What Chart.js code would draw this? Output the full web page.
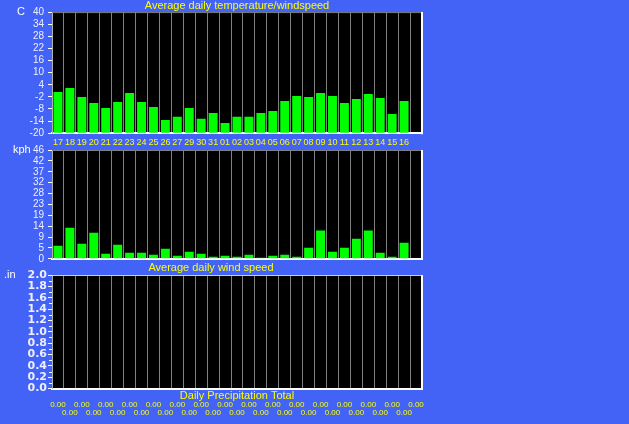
<!DOCTYPE html>
<html><head><meta charset="utf-8">
<script src="https://cdn.jsdelivr.net/npm/chart.js@4/dist/chart.umd.min.js"></script>
<style>
html,body{margin:0;padding:0;background:#4263F5;}
#wrap{position:relative;width:629px;height:424px;background:#4263F5;overflow:hidden}
canvas{position:absolute;left:0;top:0;width:629px;height:424px}
</style></head><body>
<div id="wrap">
<canvas id="cTemp" width="629" height="424"></canvas>
<canvas id="cWind" width="629" height="424"></canvas>
<canvas id="cRain" width="629" height="424"></canvas>
</div>
<script>
// ---- data ----
const days = ['17','18','19','20','21','22','23','24','25','26','27','29','30','31','01','02','03','04','05','06','07','08','09','10','11','12','13','14','15','16',''];
const tempC = [0.4, 2.4, -2.1, -5.0, -7.5, -4.5, -0.1, -4.5, -7.0, -13.4, -11.9, -7.5, -12.9, -10.0, -14.9, -11.9, -11.9, -10.0, -9.0, -4.0, -1.6, -2.1, -0.1, -1.6, -5.0, -3.1, -0.6, -2.6, -10.5, -4.0];
const windKph = [5.6, 13.2, 6.4, 11.1, 2.1, 6.0, 2.6, 2.6, 1.7, 4.3, 1.3, 3.0, 2.1, 0.9, 1.3, 0.9, 1.7, 0.4, 1.3, 1.7, 0.9, 4.7, 12.0, 3.0, 4.7, 8.5, 12.0, 2.6, 0.9, 6.8];
const rainIn = [0,0,0,0,0,0,0,0,0,0,0,0,0,0,0,0,0,0,0,0,0,0,0,0,0,0,0,0,0,0,0];
const tempMin = -20, tempMax = 40, tempStep = 6;
const windTickValues = [0, 4.63, 9.26, 13.89, 18.52, 23.15, 27.78, 32.41, 37.04, 41.67, 46.3];
const windTickLabels = ['0','5','9','14','19','23','28','32','37','42','46'];
const rainMin = 0, rainMax = 2, rainStep = 0.2;
const titles = ['Average daily temperature/windspeed', 'Average daily wind speed', 'Daily Precipitation Total'];
const units = ['C', 'kph', '.in'];

// ---- styling ----
const F = "'Liberation Sans', Arial, sans-serif";
const YELLOW = '#ffff00', GREEN = '#00ff00', GRID = '#808080', TICKTXT = '#eeeeff';
const rainLabels = rainIn.map((v, i) => i % 2 === 0 ? [v.toFixed(2), ''] : ['', v.toFixed(2)]);

const frame = {
  id: 'frame',
  beforeDraw(chart) {
    const a = chart.chartArea, ctx = chart.ctx;
    ctx.save(); ctx.fillStyle = '#000'; ctx.fillRect(a.left, a.top, a.right - a.left, a.bottom - a.top); ctx.restore();
  },
  afterDraw(chart, args, opts) {
    const a = chart.chartArea, ctx = chart.ctx;
    ctx.save();
    ctx.strokeStyle = opts.top || GRID; ctx.lineWidth = 1;
    ctx.beginPath(); ctx.moveTo(a.left, a.top + 0.5); ctx.lineTo(a.right, a.top + 0.5); ctx.stroke();
    ctx.strokeStyle = '#ffffff'; ctx.lineWidth = 2;
    ctx.beginPath(); ctx.moveTo(a.right, a.top); ctx.lineTo(a.right, a.bottom + 1); ctx.stroke();
    if (opts.text) {
      ctx.fillStyle = '#ffffff'; ctx.font = '11px ' + F; ctx.textAlign = 'left'; ctx.textBaseline = 'middle';
      ctx.fillText(opts.text, opts.x, a.top + (opts.dy || 0));
    }
    if (opts.minor) {
      const s = chart.scales.y, t = s.ticks;
      ctx.strokeStyle = '#ffffff'; ctx.lineWidth = 1;
      for (let i = 0; i < t.length - 1; i++) {
        const y = Math.round(s.getPixelForValue((t[i].value + t[i + 1].value) / 2)) + 0.5;
        ctx.beginPath(); ctx.moveTo(a.left - 3, y); ctx.lineTo(a.left, y); ctx.stroke();
      }
    }
    ctx.restore();
  }
};

const common = { responsive: false, animation: false, devicePixelRatio: 1 };
const yCommon = (extra) => Object.assign({
  grid: { drawOnChartArea: false, tickLength: 4, tickColor: '#ffffff' },
  border: { color: '#b0b0b0', width: 1 },
  afterFit: s => { s.width = 52; }
}, extra);

// ---- temperature ----
new Chart(document.getElementById('cTemp'), {
  type: 'bar',
  data: { labels: days, datasets: [{ data: tempC, base: tempMin, backgroundColor: GREEN, borderWidth: 0, barPercentage: 0.75, categoryPercentage: 1 }] },
  options: Object.assign({}, common, {
    layout: { padding: { left: 0, right: 207, top: 0, bottom: 272 } },
    plugins: {
      legend: { display: false }, tooltip: { enabled: false },
      title: { display: true, text: titles[0], color: YELLOW, fullSize: false, font: { family: F, size: 11, weight: 'normal', lineHeight: 1.1 }, padding: { top: 0, bottom: 0 } },
      frame: { text: units[0], x: 17 }
    },
    scales: {
      x: { grid: { color: GRID, drawTicks: false }, border: { color: '#ffffff', width: 2 },
           ticks: { color: YELLOW, font: { family: F, size: 9 }, autoSkip: false, maxRotation: 0, padding: 4 } },
      y: yCommon({ min: tempMin, max: tempMax, ticks: { stepSize: tempStep, autoSkip: false, color: TICKTXT, font: { family: F, size: 10 }, padding: 4 } })
    }
  }),
  plugins: [frame]
});

// ---- wind ----
new Chart(document.getElementById('cWind'), {
  type: 'bar',
  data: { labels: days, datasets: [{ data: windKph, backgroundColor: GREEN, borderWidth: 0, barPercentage: 0.75, categoryPercentage: 1 }] },
  options: Object.assign({}, common, {
    layout: { padding: { left: 0, right: 207, top: 150, bottom: 149 } },
    plugins: {
      legend: { display: false }, tooltip: { enabled: false },
      title: { display: true, position: 'bottom', text: titles[1], color: YELLOW, fullSize: true, font: { family: F, size: 11, weight: 'normal', lineHeight: 1.2 }, padding: { top: 3, bottom: 0 } },
      frame: { text: units[1], x: 13 }
    },
    scales: {
      x: { grid: { color: GRID, drawTicks: false }, border: { color: '#ffffff', width: 2 }, ticks: { display: false } },
      y: yCommon({ min: 0, max: windTickValues[windTickValues.length - 1],
        afterBuildTicks: s => { s.ticks = windTickValues.map(v => ({ value: v })); },
        ticks: { autoSkip: false, color: TICKTXT, font: { family: F, size: 10 }, padding: 4, callback: (v, i) => windTickLabels[i] } })
    }
  }),
  plugins: [frame]
});

// ---- precipitation ----
new Chart(document.getElementById('cRain'), {
  type: 'bar',
  data: { labels: days, datasets: [{ data: rainIn, backgroundColor: GREEN, borderWidth: 0, barPercentage: 0.75, categoryPercentage: 1 }] },
  options: Object.assign({}, common, {
    layout: { padding: { left: 0, right: 207, top: 275, bottom: 8 } },
    plugins: {
      legend: { display: false }, tooltip: { enabled: false },
      frame: { text: units[2], x: 4, top: '#d0d0d0', minor: true }
    },
    scales: {
      x: { weight: 0, grid: { color: GRID, drawTicks: false }, border: { color: '#ffffff', width: 2 }, ticks: { display: false },
           title: { display: true, text: titles[2], color: YELLOW, font: { family: F, size: 11, lineHeight: 1.0 }, padding: { top: 2, bottom: 0 } } },
      x2: { type: 'category', position: 'bottom', weight: 1, offset: true, labels: rainLabels,
            grid: { display: false, drawTicks: false }, border: { display: false },
            ticks: { color: YELLOW, font: { family: F, size: 8, lineHeight: 0.9 }, autoSkip: false, maxRotation: 0, padding: 0 } },
      y: yCommon({ min: rainMin, max: rainMax,
        ticks: { stepSize: rainStep, autoSkip: false, color: TICKTXT, font: { family: "'DejaVu Sans', " + F, size: 11, weight: 'bold' }, padding: 1, callback: v => v.toFixed(1) } })
    }
  }),
  plugins: [frame]
});
</script>
</body></html>
